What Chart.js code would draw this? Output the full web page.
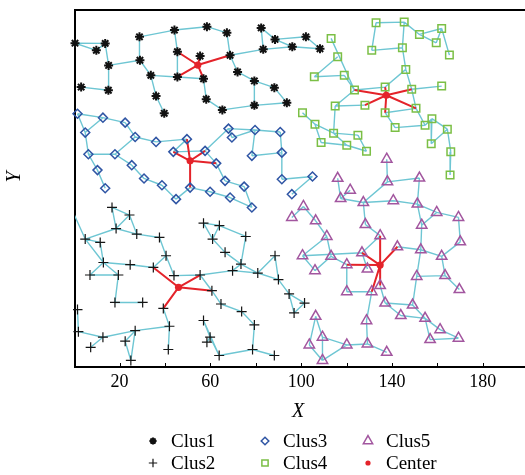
<!DOCTYPE html>
<html>
<head>
<meta charset="utf-8">
<script src="https://cdn.jsdelivr.net/npm/chart.js@4.4.1/dist/chart.umd.min.js"></script>
<style>
  html, body { margin: 0; padding: 0; background: #fff; }
  #wrap { position: relative; width: 525px; height: 475px; }
</style>
</head>
<body>
<div id="wrap"><canvas id="clusterChart"></canvas></div>
<script>
// cluster members [x, y]
const clus1 = [
  [0.4, 160], [9.8, 156.4], [13.7, 159.9], [15.2, 148.8], [28.8, 163.2], [44.2, 166.6],
  [58.5, 168.3], [29.0, 151.4], [45.5, 155.7], [55.5, 153.5], [33.8, 143.8], [45.5, 143.0],
  [57.0, 142.1], [3.1, 137.9], [15.1, 136.3], [36.1, 133.4], [39.7, 124.7], [58.2, 131.8],
  [67.3, 165.2], [68.7, 153.9], [82.4, 167.7], [88.5, 161.9], [83.3, 156.9], [96.1, 158.2],
  [102.1, 163.2], [108.3, 157.2], [72.0, 145.5], [79.4, 141.0], [88.2, 137.6], [93.7, 130.0],
  [79.4, 128.7], [65.3, 126.4]
];
const clus2 = [
  [16.7, 77.3], [24.4, 73.5], [18.5, 66.7], [27.6, 63.9], [37.6, 62.2], [-4, 84],
  [4.9, 61.4], [11.5, 59.7], [12.9, 49.6], [7.0, 43.3], [19.5, 43.3], [24.7, 48.5],
  [34.9, 47.1], [40.5, 53.0], [44.0, 43.0], [55.5, 43.3], [60.7, 35.4], [18.0, 29.5],
  [30.2, 29.5], [39.3, 26.5], [1.5, 25.9], [1.9, 14.8], [12.7, 12.0], [7.3, 6.9],
  [26.9, 15.3], [22.5, 10.0], [25.0, 0.3], [42.0, 17.5], [41.5, 5.8], [57.0, 69.4],
  [64.0, 68.2], [61.0, 61.4], [57.0, 20.4], [59.9, 12.0], [58.5, 9.5], [63.9, 2.8],
  [75.6, 62.7], [66.5, 54.7], [73.5, 48.8], [69.8, 45.5], [80.9, 44.3], [88.5, 53.0],
  [90.0, 41.0], [94.7, 33.8], [101.5, 29.2], [96.9, 24.2], [64.7, 28.7], [73.8, 24.9],
  [79.4, 18.2], [78.6, 5.8], [88.2, 2.8]
];
const clus3 = [
  [1.5, 124.5], [12.7, 122.5], [22.5, 120.0], [4.9, 115.0], [26.9, 112.8], [36.1, 110.3],
  [43.7, 105.3], [49.7, 111.7], [57.7, 105.8], [62.6, 99.5], [6.3, 104.1], [18.0, 104.1],
  [25.4, 98.6], [10.3, 96.1], [30.8, 91.9], [13.7, 87.0], [38.7, 88.5], [44.9, 81.5],
  [51.1, 87.3], [59.9, 85.2], [68.0, 117.0], [69.5, 112.5], [79.7, 116.3], [90.8, 115.3],
  [78.3, 103.3], [91.5, 104.9], [91.5, 91.5], [105.0, 92.9], [66.5, 90.7], [74.9, 87.8],
  [68.7, 82.3], [78.3, 77.3], [95.9, 84.0]
];
const clus4 = [
  [113.2, 162.4], [116.1, 153.2], [105.8, 143.1], [119.0, 143.8], [123.5, 136.4], [128.1, 128.8],
  [115.0, 128.4], [100.6, 125.0], [106.1, 119.2], [114.3, 114.7], [108.8, 110.0], [120.1, 108.6],
  [125.0, 113.7], [128.8, 105.6], [133.0, 170.3], [145.4, 170.6], [152.1, 164.4], [161.9, 167.4],
  [159.5, 160.2], [165.3, 154.0], [131.1, 156.4], [144.6, 157.7], [146.1, 146.8], [137.0, 137.9],
  [148.7, 136.8], [161.9, 138.4], [137.0, 125.0], [150.6, 127.2], [141.4, 117.5], [154.6, 118.7],
  [157.6, 122.0], [164.4, 116.7], [157.3, 109.4], [165.9, 105.4], [165.6, 93.6]
];
const clus5 = [
  [116.1, 92.0], [121.6, 86.0], [117.4, 81.8], [137.7, 101.6], [138.0, 90.2], [152.1, 92.1],
  [101.0, 77.8], [95.9, 72.3], [106.4, 70.6], [128.3, 68.7], [127.4, 79.8], [140.6, 80.7],
  [151.2, 79.0], [159.7, 74.8], [169.3, 72.3], [153.1, 68.4], [134.8, 63.1], [142.4, 57.5],
  [170.1, 60.0], [152.7, 56.0], [161.9, 52.7], [111.3, 62.7], [100.6, 53.0], [113.2, 52.7],
  [106.1, 45.5], [120.1, 48.5], [126.8, 54.5], [129.2, 46.3], [120.1, 34.9], [150.9, 42.6],
  [163.4, 43.0], [169.7, 36.0], [134.8, 38.0], [131.1, 34.9], [137.0, 29.2], [149.1, 28.2],
  [143.9, 22.9], [154.6, 21.5], [128.8, 20.3], [161.2, 15.8], [156.8, 10.8], [169.3, 11.5],
  [129.2, 8.6], [137.7, 4.4], [106.4, 22.5], [109.4, 12.0], [103.6, 8.1], [120.1, 8.1],
  [109.4, 0.3]
];
const centers = [[54.5, 149], [46.0, 37.1], [51.1, 100.8], [137.5, 133.8], [134.8, 48.3]];

// neighbour links inside each cluster (index pairs)
const clus1Links = [[0,1],[0,2],[1,2],[2,3],[3,7],[7,4],[4,5],[5,6],[5,8],[7,10],[10,11],[8,11],
  [10,15],[15,16],[11,12],[12,17],[17,31],[13,14],[14,3],[6,18],[18,19],[19,22],[20,22],[20,21],
  [21,24],[21,23],[22,23],[23,25],[24,25],[19,26],[26,27],[27,28],[28,29],[27,30],[30,29],[30,31]];
const clus2Links = [[0,1],[0,2],[1,2],[1,3],[2,3],[3,4],[2,6],[5,6],[6,7],[6,8],[7,8],[8,9],[9,10],
  [8,10],[8,11],[11,12],[10,17],[17,18],[4,13],[13,12],[13,14],[14,15],[15,16],[15,39],[16,46],
  [19,27],[27,28],[27,24],[24,22],[22,21],[21,20],[22,23],[25,24],[25,26],[24,26],[29,30],[29,31],
  [30,31],[32,33],[32,35],[33,35],[33,34],[30,36],[31,37],[37,38],[36,38],[38,39],[39,40],[38,40],
  [40,41],[41,42],[40,42],[42,43],[43,44],[43,45],[44,45],[46,47],[47,48],[48,49],[49,50],[49,35]];
const clus3Links = [[0,1],[1,2],[0,3],[3,1],[2,4],[4,5],[5,7],[6,7],[6,8],[8,9],[8,20],[3,10],
  [10,11],[11,4],[11,12],[10,13],[13,15],[12,14],[14,16],[16,17],[17,18],[18,19],[19,30],[9,28],
  [28,29],[29,31],[30,31],[20,21],[20,22],[21,22],[22,23],[22,24],[24,25],[23,25],[25,26],[26,27],[27,32]];
const clus4Links = [[0,4],[1,2],[2,3],[3,4],[4,6],[5,6],[6,9],[7,8],[8,9],[8,10],[10,11],[9,11],
  [9,12],[12,13],[11,13],[14,15],[14,20],[20,21],[15,21],[15,16],[16,17],[16,18],[17,18],[17,19],
  [21,22],[22,23],[22,24],[4,23],[24,25],[24,27],[26,27],[26,28],[28,29],[27,29],[29,30],[30,31],
  [30,32],[31,32],[31,33],[33,34]];
const clus5Links = [[0,2],[1,2],[2,10],[3,4],[4,5],[4,10],[10,11],[5,12],[11,12],[12,13],[13,14],
  [14,18],[18,20],[12,15],[13,15],[15,19],[17,19],[19,20],[20,30],[30,31],[19,29],[29,30],[29,35],
  [10,9],[9,16],[16,26],[6,7],[6,8],[8,21],[21,23],[21,22],[22,24],[22,26],[24,23],[23,25],[25,28],
  [28,33],[26,27],[32,34],[33,38],[34,35],[34,36],[36,37],[35,37],[37,39],[37,40],[39,41],[40,41],
  [38,42],[42,43],[44,45],[44,46],[45,47],[46,48],[48,47],[45,48],[47,42]];

// members joined to their cluster centre
const centerLinks = [[8, 9, 11, 12, 19], [12, 15, 16, 19], [6, 7, 8, 9, 18],
  [4, 5, 23, 24, 26, 27], [16, 17, 25, 26, 32, 33]];

const xTickLabels = [20, 60, 100, 140, 180];
const yTickLabels = [0, 40, 80, 120, 160];

const clusters = [clus1, clus2, clus3, clus4, clus5];
const clusterLinks = [clus1Links, clus2Links, clus3Links, clus4Links, clus5Links];

const SERIF = '"Liberation Serif", "Times New Roman", serif';
const LINK_COLOR = '#6ec6d3';
const RED = '#e4232a';

function toPoints(list) {
  return list.map(p => ({ x: p[0], y: p[1] }));
}

// segments separated by null points so the line breaks between links
function segments(pairs) {
  const out = [];
  pairs.forEach(([a, b]) => {
    out.push({ x: a[0], y: a[1] }, { x: b[0], y: b[1] }, { x: null, y: null });
  });
  return out;
}

const linkPairs = [];
clusters.forEach((pts, k) => {
  clusterLinks[k].forEach(([a, b]) => linkPairs.push([pts[a], pts[b]]));
});
const centerPairs = [];
centers.forEach((c, k) => {
  centerLinks[k].forEach(i => centerPairs.push([c, clusters[k][i]]));
});

const series = [
  { label: 'Clus1', data: clus1, style: 'star', radius: 4.5, color: '#111', width: 2 },
  { label: 'Clus2', data: clus2, style: 'cross', radius: 5, color: '#151515', width: 1.2 },
  { label: 'Clus3', data: clus3, style: 'rectRot', radius: 4.5, color: '#2f55a4', width: 1.5 },
  { label: 'Clus4', data: clus4, style: 'rect', radius: 5.3, color: '#7bbf45', width: 1.5 },
  { label: 'Clus5', data: clus5, style: 'triangle', radius: 6, color: '#a2569f', width: 1.5 },
];

const markerSets = series.map(s => ({
  label: s.label,
  data: toPoints(s.data),
  pointStyle: s.style,
  pointRadius: s.radius,
  pointBorderColor: s.color,
  pointBackgroundColor: 'rgba(0,0,0,0)',
  pointBorderWidth: s.width,
  showLine: false,
  order: 2,
  // Clus2 keeps its off-axis member hidden
  clip: s.label === 'Clus2' ? { left: 2, top: 10, right: 10, bottom: 10 } : false,
}));

const datasets = [
  {
    label: 'Center',
    data: toPoints(centers),
    pointStyle: 'circle',
    pointRadius: 3.6,
    pointBackgroundColor: RED,
    pointBorderWidth: 0,
    showLine: false,
    order: 1,
    clip: false,
  },
  ...markerSets,
  {
    label: 'links',
    data: segments(centerPairs),
    showLine: true,
    borderColor: RED,
    borderWidth: 2,
    pointRadius: 0,
    spanGaps: false,
    order: 3,
  },
  {
    label: 'edges',
    data: segments(linkPairs),
    showLine: true,
    borderColor: LINK_COLOR,
    borderWidth: 1.4,
    pointRadius: 0,
    spanGaps: false,
    order: 4,
  },
];

// frame top, inner ticks, axis titles and the legend grid
const decorations = {
  id: 'decorations',
  afterDraw(chart) {
    const { ctx, chartArea, scales: { x, y } } = chart;
    ctx.save();
    ctx.strokeStyle = '#000';
    ctx.lineWidth = 2;
    ctx.beginPath();
    ctx.moveTo(chartArea.left, chartArea.top);
    ctx.lineTo(chartArea.right, chartArea.top);
    ctx.stroke();

    ctx.lineWidth = 1;
    ctx.beginPath();
    x.ticks.forEach(t => {
      if (t.value % 20 !== 0) return;
      const px = Math.round(x.getPixelForValue(t.value)) + 0.5;
      ctx.moveTo(px, chartArea.bottom);
      ctx.lineTo(px, chartArea.bottom - 4);
    });
    y.ticks.forEach(t => {
      if (t.value % 20 !== 0) return;
      const py = Math.round(y.getPixelForValue(t.value)) + 0.5;
      ctx.moveTo(chartArea.left, py);
      ctx.lineTo(chartArea.left + 4, py);
    });
    ctx.stroke();

    ctx.fillStyle = '#000';
    ctx.font = 'italic 20px ' + SERIF;
    ctx.textAlign = 'center';
    ctx.textBaseline = 'middle';
    ctx.fillText('X', 298, 412);
    ctx.save();
    ctx.translate(15, 177);
    ctx.rotate(-Math.PI / 2);
    ctx.fillText('Y', 0, 0);
    ctx.restore();

    const items = [
      { ...series[0], col: 0, row: 0, r: 3.6 },
      { ...series[1], col: 0, row: 1, r: 4.2 },
      { ...series[2], col: 1, row: 0, r: 3.8 },
      { ...series[3], col: 1, row: 1, r: 4.4 },
      { ...series[4], col: 2, row: 0, r: 5.4 },
      { label: 'Center', style: 'circle', color: RED, width: 0, fill: RED, col: 2, row: 1, r: 2.6 },
    ];
    const colX = [153, 265, 368];
    const rowY = [441, 463];
    ctx.font = '19px ' + SERIF;
    ctx.textAlign = 'left';
    items.forEach(it => {
      const px = colX[it.col];
      const py = rowY[it.row];
      ctx.strokeStyle = it.color;
      ctx.fillStyle = it.fill || 'rgba(0,0,0,0)';
      ctx.lineWidth = it.width;
      Chart.helpers.drawPoint(ctx, { pointStyle: it.style, radius: it.r, rotation: 0, borderWidth: it.width }, px, py);
      ctx.fillStyle = '#000';
      ctx.fillText(it.label, px + 18, py + 1);
    });
    ctx.restore();
  }
};

new Chart(document.getElementById('clusterChart'), {
  type: 'scatter',
  data: { datasets },
  options: {
    responsive: true,
    maintainAspectRatio: false,
    animation: false,
    events: [],
    layout: { autoPadding: false, padding: { left: 0, right: 0, top: 10, bottom: 78 } },
    plugins: { legend: { display: false }, tooltip: { enabled: false } },
    scales: {
      x: {
        type: 'linear',
        min: 0.4,
        max: 198.6,
        afterFit(scale) {
          scale.height = 30;
          scale.paddingLeft = 0;
          scale.paddingRight = 0;
        },
        grid: { drawOnChartArea: false, drawTicks: false },
        border: { color: '#000', width: 2 },
        ticks: {
          stepSize: 20,
          includeBounds: false,
          autoSkip: false,
          maxRotation: 0,
          padding: 4,
          color: '#000',
          font: { family: SERIF, size: 18 },
          callback: v => (xTickLabels.includes(v) ? String(v) : ''),
        },
      },
      y: {
        type: 'linear',
        min: -3,
        max: 176.7,
        afterFit(scale) {
          scale.width = 75;
          scale.paddingTop = 0;
          scale.paddingBottom = 0;
        },
        grid: { drawOnChartArea: false, drawTicks: false },
        border: { color: '#000', width: 2 },
        ticks: {
          stepSize: 20,
          includeBounds: false,
          autoSkip: false,
          padding: 6,
          color: '#000',
          font: { family: SERIF, size: 18 },
          callback: v => (yTickLabels.includes(v) ? String(v) : ''),
        },
      },
    },
  },
  plugins: [decorations],
});
</script>
</body>
</html>
